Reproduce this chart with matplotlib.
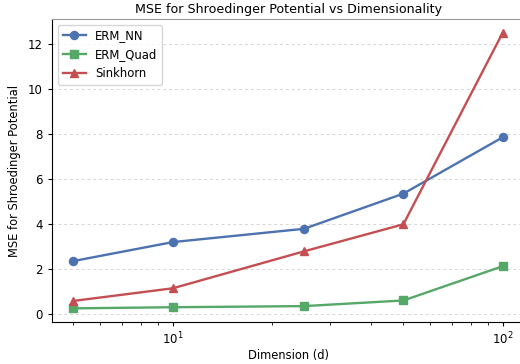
import matplotlib.pyplot as plt

# data
dims = [5, 10, 25, 50, 100]
erm_nn = [2.37, 3.21, 3.80, 5.36, 7.86]
erm_quad = [0.27, 0.32, 0.37, 0.62, 2.14]
sinkhorn = [0.60, 1.16, 2.80, 4.00, 12.50]

fig, ax = plt.subplots(figsize=(5.2, 3.64), dpi=100)

ax.plot(dims, erm_nn, marker='o', color='#4C72B0', linewidth=1.7, markersize=5.8, label='ERM_NN')
ax.plot(dims, erm_quad, marker='s', color='#55A868', linewidth=1.7, markersize=5.8, label='ERM_Quad')
ax.plot(dims, sinkhorn, marker='^', color='#C44E52', linewidth=1.7, markersize=5.8, label='Sinkhorn')

ax.set_xscale('log')
ax.set_title("MSE for Shroedinger Potential vs Dimensionality", fontsize=9.1, pad=4)
ax.set_xlabel("Dimension (d)", fontsize=8.3, labelpad=1)
ax.set_ylabel("MSE for Shroedinger Potential", fontsize=8.3, labelpad=5)
ax.tick_params(labelsize=8.5, length=3)
ax.tick_params(which='minor', length=2)
ax.grid(axis='y', linestyle=(0, (3, 3)), color='#d5d5d5', linewidth=0.7)
ax.legend(loc='upper left', fontsize=8.4)

for side in ['top', 'right']:
    ax.spines[side].set_color('#999999')

fig.subplots_adjust(left=0.1, right=1.008, top=0.948, bottom=0.115)
fig.savefig('out.png', dpi=100)
